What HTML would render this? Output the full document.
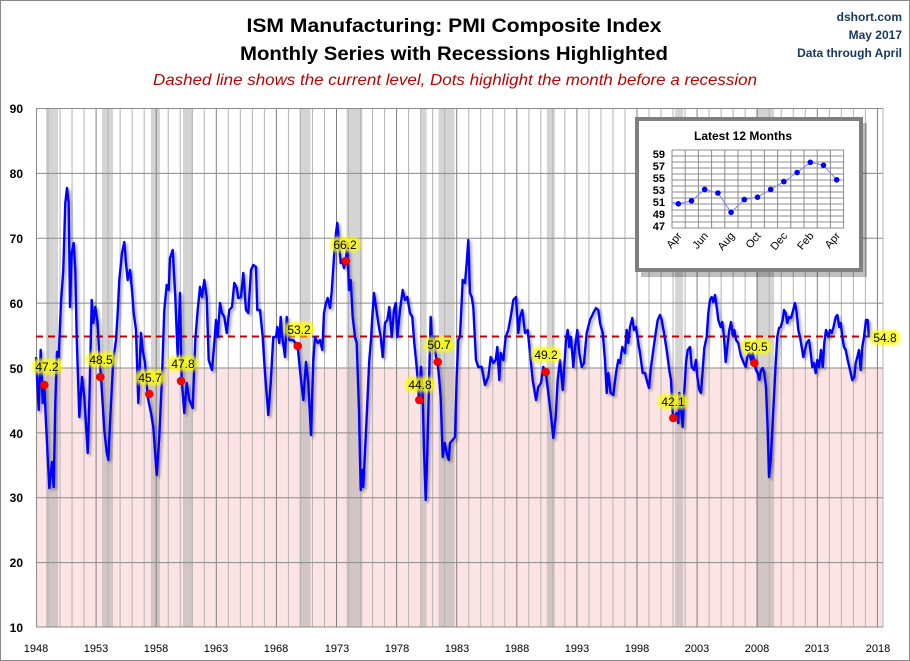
<!DOCTYPE html>
<html><head><meta charset="utf-8"><style>
html,body{margin:0;padding:0;background:#fff}
svg{display:block}
text{font-family:"Liberation Sans",sans-serif}
</style></head><body>
<svg width="910" height="661" viewBox="0 0 910 661" xmlns="http://www.w3.org/2000/svg">
<defs>
<filter id="sh" x="-5%" y="-5%" width="110%" height="110%"><feDropShadow dx="2" dy="2" stdDeviation="1.2" flood-color="#000" flood-opacity="0.35"/></filter>
<filter id="glow" x="-30%" y="-50%" width="160%" height="200%"><feGaussianBlur stdDeviation="1.5"/></filter>
</defs>
<rect x="0.5" y="0.5" width="909" height="660" fill="#fff" stroke="#888"/>
<text x="454" y="32" text-anchor="middle" font-size="19" font-weight="bold" textLength="415" lengthAdjust="spacingAndGlyphs">ISM Manufacturing: PMI Composite Index</text>
<text x="454" y="60" text-anchor="middle" font-size="19" font-weight="bold" textLength="428" lengthAdjust="spacingAndGlyphs">Monthly Series with Recessions Highlighted</text>
<text x="455" y="85" text-anchor="middle" font-size="16" font-style="italic" fill="#c00000" textLength="604" lengthAdjust="spacingAndGlyphs">Dashed line shows the current level, Dots highlight the month before a recession</text>
<g font-size="12" font-weight="bold" fill="#17375e" text-anchor="end">
<text x="902" y="21">dshort.com</text>
<text x="902" y="39">May 2017</text>
<text x="902" y="57">Data through April</text>
</g>
<rect x="36" y="367.5" width="847" height="259.5" fill="#fde4e4"/>
<g fill="#a0a0a0" fill-opacity="0.45">
<rect x="46" y="108" width="12" height="519"/>
<rect x="102" y="108" width="11" height="519"/>
<rect x="151" y="108" width="9" height="519"/>
<rect x="183" y="108" width="10" height="519"/>
<rect x="299.5" y="108" width="11" height="519"/>
<rect x="346.5" y="108" width="16" height="519"/>
<rect x="420.6" y="108" width="6" height="519"/>
<rect x="438.6" y="108" width="16" height="519"/>
<rect x="546.8" y="108" width="8" height="519"/>
<rect x="675.1" y="108" width="8" height="519"/>
<rect x="756.2" y="108" width="18" height="519"/>
</g>
<path stroke="#b4b4b4" stroke-width="1" fill="none" d="M48.02 108V627M60.04 108V627M72.06 108V627M84.08 108V627M108.12 108V627M120.14 108V627M132.16 108V627M144.18 108V627M168.22 108V627M180.24 108V627M192.26 108V627M204.28 108V627M228.32 108V627M240.34 108V627M252.36 108V627M264.38 108V627M288.42 108V627M300.44 108V627M312.46 108V627M324.48 108V627M348.52 108V627M360.54 108V627M372.56 108V627M384.58 108V627M408.62 108V627M420.64 108V627M432.66 108V627M444.68 108V627M468.72 108V627M480.74 108V627M492.76 108V627M504.78 108V627M528.82 108V627M540.84 108V627M552.86 108V627M564.88 108V627M588.92 108V627M600.94 108V627M612.96 108V627M624.98 108V627M649.02 108V627M661.04 108V627M673.06 108V627M685.08 108V627M709.12 108V627M721.14 108V627M733.16 108V627M745.18 108V627M769.22 108V627M781.24 108V627M793.26 108V627M805.28 108V627M829.32 108V627M841.34 108V627M853.36 108V627M865.38 108V627M883 108V627"/>
<path stroke="#808080" stroke-width="1" fill="none" d="M96.1 108V627M156.2 108V627M216.3 108V627M276.4 108V627M336.5 108V627M396.6 108V627M456.7 108V627M516.8 108V627M576.9 108V627M637 108V627M697.1 108V627M757.2 108V627M817.3 108V627M877.4 108V627"/>
<g stroke="#8a8a8a" stroke-width="1">
<line x1="36" y1="108.5" x2="883" y2="108.5"/>
<line x1="36" y1="173.4" x2="883" y2="173.4"/>
<line x1="36" y1="238.3" x2="883" y2="238.3"/>
<line x1="36" y1="303.1" x2="883" y2="303.1"/>
<line x1="36" y1="368" x2="883" y2="368"/>
<line x1="36" y1="432.9" x2="883" y2="432.9"/>
<line x1="36" y1="497.7" x2="883" y2="497.7"/>
<line x1="36" y1="562.6" x2="883" y2="562.6"/>
<line x1="36" y1="627" x2="883" y2="627"/>
<line x1="36.5" y1="108" x2="36.5" y2="627"/>
</g>
<g font-size="12" font-weight="bold" text-anchor="end" fill="#000">
<text x="23" y="113">90</text><text x="23" y="178">80</text><text x="23" y="243">70</text><text x="23" y="308">60</text><text x="23" y="373">50</text><text x="23" y="438">40</text><text x="23" y="502">30</text><text x="23" y="567">20</text><text x="23" y="632">10</text>
</g>
<g font-size="11" text-anchor="middle" fill="#000">
<text x="36" y="652">1948</text><text x="96" y="652">1953</text><text x="156" y="652">1958</text><text x="216" y="652">1963</text><text x="276" y="652">1968</text><text x="337" y="652">1973</text><text x="397" y="652">1978</text><text x="457" y="652">1983</text><text x="517" y="652">1988</text><text x="577" y="652">1993</text><text x="637" y="652">1998</text><text x="697" y="652">2003</text><text x="757" y="652">2008</text><text x="817" y="652">2013</text><text x="878" y="652">2018</text>
</g>
<line x1="36" y1="336.5" x2="870" y2="336.5" stroke="#c00000" stroke-width="2" stroke-dasharray="7,5"/>
<polyline filter="url(#sh)" fill="none" stroke="#0000ff" stroke-width="2.4" stroke-linejoin="round" points="
36,357 38.7,410 40.7,350 42.7,403 44.3,385 46,423 49.3,488 52,462 53.7,487 55.3,403 57,352 58.7,357 61,303 63.3,270 65.3,203 67,188 68.7,203 70,307 71.7,253 73.7,243 75.3,270 76.7,337 79.3,417 82,377 84.3,397 87.7,453 89.3,403 91.7,300 93.3,323 95.3,307 97.7,323 99.3,357 101,377 104.3,430 106.7,452 108.3,460 111,403 113.3,360 116,340 117.7,313 119.3,280 122,253 124.3,242 126,263 127.7,280 130,270 132,290 133.7,313 136,330 138.3,403 141,333 142.7,350 145,363 147.7,397 151,413 153.3,427 156.7,475 159.3,437 162,377 164.3,310 166.7,285 168.7,290 170,258 172.7,250 175.3,297 177.7,357 180,293 181.7,380 184.3,413 186.7,383 189.3,400 192.7,408 195.3,340 197.7,310 200,287 202,297 204.3,280 206.7,297 208.7,360 212,370 214.3,343 216,320 217.7,337 220,303 222,313 224.3,317 226.7,333 229.3,310 232,307 234.3,283 236.7,288 238.3,298 241,297 243.3,273 246,310 248.3,313 251,270 253.3,265 256,267
257.3,310 260,310 262.7,337 265,373 268.3,415 270.7,383 273.3,337 276,337 277.3,327 279.3,343 280.7,317 282.7,340 285,357 286.7,317 289.3,340 293.3,340 297.7,347 300.7,377 303.3,400 306,362 308.3,383 311,435 313.3,360 315,337 317.7,343 320,340 322.3,350 324,313 326,303 327.7,298 330,308 331.7,292 334,257 336,233 337.3,223 339,242 340.7,263 342.3,260 344,268 345.7,262 347.3,243 349,290 350.7,280 352.7,317 355,337 356.7,343 359,410 360.7,490 362.3,470 363.3,487 366.7,417 369.3,360 371,340 372.3,317 374,293 376,307 378.3,323 380.7,337 382.7,357 385,323 387.3,320 389.3,307 391.7,337 394,310 395.7,303 397.3,337 400,310 402.7,290 405,300 407.3,297 410,313 412.3,317 414.3,343 416.7,367 419,400 421,367 422.7,397 424,450 425.7,500 427.3,453 429,383 430.7,317 432.3,350 434,337 436,357 437.7,363 439.3,380 440.7,397 442.7,457 444.7,443 446.7,453 448.7,460 450,443 452.7,440 455,437 456.7,377 458.3,340 460,337
462.7,280 465,283 466.7,263 468.3,240 470,293 471.7,297 473.3,307 476,360 478.3,367 481.7,367 485,385 488.3,377 490.7,357 493.3,363 495.7,360 497.3,347 499.3,380 500.7,353 503.3,360 505.7,337 508.3,330 510.7,317 513.3,300 516,297 518.3,333 520,317 522.3,310 525,333 527.7,330 530,353 532.7,380 536,400 538.3,387 541,383 543.3,367 545.7,372 548.3,393 550.7,413 553.3,438 555.7,417 557.7,380 560,360 562.7,390 564.3,367 566,340 567.7,330 569.3,347 571,337 573.3,367 575,347 577.3,330 579.3,353 581.7,367 584,363 586.7,333 590,320 593.3,313 596,308 598.3,310 600,323 602.7,333 605,360 606.7,393 608.3,373 610.7,393 613.3,395 616,373 618.3,360 620,363 622.3,347 625,353 626.7,330 628.3,343 630,327 632.3,318 634,330 636,327 638.3,343 640,353 642.7,373 645,373 646.7,380 649,388 651,367 653.3,350 655.7,333 657.7,320 660,315 661.7,320 664,333 666.7,350 669.3,370 671,380 672.7,413 674,418 676.7,413 678.3,423
679.3,393 681,410 682.7,427 684,397 686,363 687.7,350 690,347 691.7,367 694,370 696,360 697.3,377 699.3,390 701,393 702.7,370 704.3,348 706.7,337 708.3,313 710,300 711.7,297 713.3,302 715,295 716.7,307 718.3,320 720.7,327 722.3,322 724,337 725.7,362 727.3,347 729.3,330 731,322 732.7,335 734.3,330 736,340 738.3,343 740.7,355 743.3,362 745.7,367 747.3,357 749.3,353 751,360 752.7,353 754.3,363 756,370 757.7,373 759.3,380 761,370 762.7,368 764.3,373 766,387 767.7,430 769,477 770.7,460 772.3,430 774,397 775.7,363 777.3,337 779,328 780.7,327 782.7,320 784,310 785.7,313 787.3,323 789,317 791,318 792.7,312 795,303 796.7,313 798.3,330 800,337 801.7,347 803.3,357 805,350 806.7,343 809,340 810.7,353 812.3,367 814,363 815.7,373 817.3,360 819,367 821,350 822.7,367 824.3,343 826,330 828.3,337 830,330 831.7,333 833.3,328 835.7,317 837.3,315 839.3,327 840.7,323 842.3,337 844,347 845.7,350 847.7,360 850,370 852.3,380 854.3,377 855.7,363 857.3,357 859,350 860.7,370 862.3,347 864,337 866,320 867.7,320 869,337"/>
<g fill="#ff0000" stroke="#c00000" stroke-width="0.5">
<circle cx="44.3" cy="385" r="4"/><circle cx="100.3" cy="377" r="4"/><circle cx="149.3" cy="394" r="4"/><circle cx="181" cy="381" r="4"/><circle cx="297.7" cy="346" r="4"/><circle cx="345.7" cy="261" r="4"/><circle cx="419.3" cy="400" r="4"/><circle cx="437.7" cy="362" r="4"/><circle cx="545.7" cy="372" r="4"/><circle cx="673.3" cy="418" r="4"/><circle cx="754.3" cy="363" r="4"/>
</g>
<g fill="#ffff00" opacity="0.8" filter="url(#glow)">
<rect x="32" y="359" width="30" height="15" rx="6"/>
<rect x="86" y="352" width="30" height="15" rx="6"/>
<rect x="135" y="370" width="30" height="15" rx="6"/>
<rect x="168" y="356" width="30" height="15" rx="6"/>
<rect x="284" y="322" width="30" height="15" rx="6"/>
<rect x="330" y="237" width="30" height="15" rx="6"/>
<rect x="405" y="377" width="30" height="15" rx="6"/>
<rect x="424" y="337" width="30" height="15" rx="6"/>
<rect x="531" y="347" width="30" height="15" rx="6"/>
<rect x="658" y="394" width="30" height="15" rx="6"/>
<rect x="741" y="339" width="30" height="15" rx="6"/>
<rect x="870" y="330" width="30" height="15" rx="6"/>
</g>
<g font-size="12" text-anchor="middle" fill="#000">
<text x="47" y="371">47.2</text>
<text x="101" y="364">48.5</text>
<text x="150" y="382">45.7</text>
<text x="183" y="368">47.8</text>
<text x="299" y="334">53.2</text>
<text x="345" y="249">66.2</text>
<text x="420" y="389">44.8</text>
<text x="439" y="349">50.7</text>
<text x="546" y="359">49.2</text>
<text x="673" y="406">42.1</text>
<text x="756" y="351">50.5</text>
<text x="885" y="342">54.8</text>
</g>
<!-- inset -->
<rect x="641" y="123" width="226" height="154" fill="#000" opacity="0.25"/>
<rect x="637" y="119" width="224" height="151" fill="#fff" stroke="#7f7f7f" stroke-width="4"/>
<text x="743" y="140" text-anchor="middle" font-size="12" font-weight="bold">Latest 12 Months</text>
<path stroke="#8c8c8c" stroke-width="1" fill="none" d="M672 150V228M685.2 150V228M698.4 150V228M711.6 150V228M724.8 150V228M738 150V228M751.2 150V228M764.4 150V228M777.6 150V228M790.8 150V228M804 150V228M817.2 150V228M830.4 150V228M843.6 150V228M672 150H844M672 156H844M672 162H844M672 168H844M672 174H844M672 180H844M672 186H844M672 192H844M672 198H844M672 204H844M672 210H844M672 216H844M672 222H844M672 228H844"/>
<g font-size="11" font-weight="bold" text-anchor="end">
<text x="665" y="158">59</text><text x="665" y="170">57</text><text x="665" y="182">55</text><text x="665" y="194">53</text><text x="665" y="206">51</text><text x="665" y="218">49</text><text x="665" y="230">47</text>
</g>
<polyline fill="none" stroke="#8080ff" stroke-width="1" points="672,202 678.3,203.8 691.5,200.8 704.7,189.4 717.9,193 731.1,212.3 744.3,199.6 757.5,197.2 770.7,189.4 783.9,181.6 797.1,172.5 810.3,162.3 823.5,165.3 836.7,179.8"/>
<g fill="#0000ff">
<circle cx="678.3" cy="203.8" r="2.8"/><circle cx="691.5" cy="200.8" r="2.8"/><circle cx="704.7" cy="189.4" r="2.8"/><circle cx="717.9" cy="193" r="2.8"/><circle cx="731.1" cy="212.3" r="2.8"/><circle cx="744.3" cy="199.6" r="2.8"/><circle cx="757.5" cy="197.2" r="2.8"/><circle cx="770.7" cy="189.4" r="2.8"/><circle cx="783.9" cy="181.6" r="2.8"/><circle cx="797.1" cy="172.5" r="2.8"/><circle cx="810.3" cy="162.3" r="2.8"/><circle cx="823.5" cy="165.3" r="2.8"/><circle cx="836.7" cy="179.8" r="2.8"/>
</g>
<g font-size="11" text-anchor="end">
<text x="682.3" y="236" transform="rotate(-50 682.3 236)">Apr</text>
<text x="708.7" y="236" transform="rotate(-50 708.7 236)">Jun</text>
<text x="735.1" y="236" transform="rotate(-50 735.1 236)">Aug</text>
<text x="761.5" y="236" transform="rotate(-50 761.5 236)">Oct</text>
<text x="787.9" y="236" transform="rotate(-50 787.9 236)">Dec</text>
<text x="814.3" y="236" transform="rotate(-50 814.3 236)">Feb</text>
<text x="840.7" y="236" transform="rotate(-50 840.7 236)">Apr</text>
</g>
</svg>
</body></html>
